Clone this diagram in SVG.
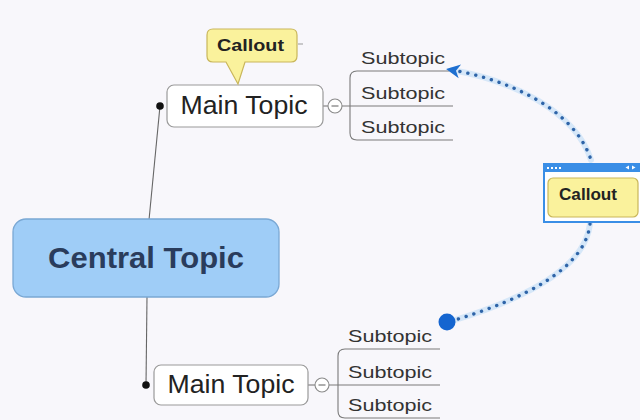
<svg xmlns="http://www.w3.org/2000/svg" width="640" height="420" viewBox="0 0 640 420">
  <style>
    text { font-family: "Liberation Sans", Arial, sans-serif; }
    .main-box { fill: #ffffff; stroke: #9a9a9a; stroke-width: 1.2; }
    .main-text { font-size: 25px; fill: #222222; }
    .sub-text { font-size: 17px; fill: #333333; }
    .callout-box { fill: #faf29c; stroke: #c9b65a; stroke-width: 1.2; }
    .callout-text { font-size: 17px; font-weight: bold; fill: #222222; }
    .branch { fill: none; stroke: #666666; stroke-width: 1.1; }
    .sub-line { fill: none; stroke: #7a7a7a; stroke-width: 1.1; }
    .toggle { fill: #ffffff; stroke: #8a8a8a; stroke-width: 1.1; }
    .toggle-minus { stroke: #777777; stroke-width: 1.2; }
    .rel-halo { fill: none; stroke: #d6e7f8; stroke-width: 6; stroke-linecap: round; }
    .rel-dots { fill: none; stroke: #2e64a8; stroke-width: 3.4; stroke-linecap: round; stroke-dasharray: 0.1 8; }
  </style>
  <defs>
    <marker id="rel-arrow" viewBox="-12 -8 20 16" markerUnits="userSpaceOnUse" markerWidth="20" markerHeight="16" refX="0" refY="0" orient="auto-start-reverse">
      <path d="M6,0 L-8,-7 L-4,0 L-8,7 Z" fill="#1e6fd0"/>
    </marker>
  </defs>

  <rect width="640" height="420" fill="#f8f7fb"/>

  <g id="connectors">
    <!-- trunk from central topic to both main topics -->
    <path class="branch" d="M160 106 L149 220"/>
    <path class="branch" d="M147 297 L146 385"/>
    <circle cx="160" cy="106" r="3.8" fill="#111111"/>
    <circle cx="146" cy="385" r="3.8" fill="#111111"/>

    <!-- upper main topic to its subtopics -->
    <path class="sub-line" d="M323 106 H328"/>
    <path class="sub-line" d="M342 106 H453"/>
    <path class="sub-line" d="M453 71 H357 Q350 71 350 78 V133 Q350 140 357 140 H453"/>

    <!-- lower main topic to its subtopics -->
    <path class="sub-line" d="M308 385 H315"/>
    <path class="sub-line" d="M329 385 H440"/>
    <path class="sub-line" d="M440 349 H345 Q338 349 338 356 V411 Q338 418 345 418 H440"/>

    <!-- relationship line through the floating callout -->
    <path class="rel-halo" d="M452 70 C510 80 575 110 591 160"/>
    <path class="rel-dots" d="M452 70 C510 80 575 110 591 160" marker-start="url(#rel-arrow)"/>
    <path class="rel-halo" d="M590 224 C585 270 520 300 455 320"/>
    <path class="rel-dots" d="M590 224 C585 270 520 300 455 320"/>
    <circle cx="447" cy="322" r="8.5" fill="#1565d0"/>
  </g>

  <g id="central-topic">
    <rect x="13" y="219" width="266" height="78" rx="13" fill="#9fcdf7" stroke="#7aa8d4" stroke-width="1.3"/>
    <text x="146" y="268" text-anchor="middle" font-size="30" font-weight="bold" fill="#2a3c5c" textLength="196" lengthAdjust="spacingAndGlyphs">Central Topic</text>
  </g>

  <g id="main-topic-1">
    <rect class="main-box" x="167" y="85" width="156" height="42" rx="7"/>
    <text class="main-text" x="244" y="114" text-anchor="middle" textLength="127" lengthAdjust="spacingAndGlyphs">Main Topic</text>
    <circle class="toggle" cx="335" cy="106" r="7"/>
    <path class="toggle-minus" d="M331.5 106 H338.5"/>
  </g>

  <g id="main-topic-2">
    <rect class="main-box" x="154" y="365" width="154" height="40" rx="7"/>
    <text class="main-text" x="231" y="393" text-anchor="middle" textLength="127" lengthAdjust="spacingAndGlyphs">Main Topic</text>
    <circle class="toggle" cx="322" cy="385" r="7"/>
    <path class="toggle-minus" d="M318.5 385 H325.5"/>
  </g>

  <g id="subtopic-1-1"><text class="sub-text" x="361" y="64" textLength="84" lengthAdjust="spacingAndGlyphs">Subtopic</text></g>
  <g id="subtopic-1-2"><text class="sub-text" x="361" y="99" textLength="84" lengthAdjust="spacingAndGlyphs">Subtopic</text></g>
  <g id="subtopic-1-3"><text class="sub-text" x="361" y="133" textLength="84" lengthAdjust="spacingAndGlyphs">Subtopic</text></g>

  <g id="subtopic-2-1"><text class="sub-text" x="348" y="342" textLength="84" lengthAdjust="spacingAndGlyphs">Subtopic</text></g>
  <g id="subtopic-2-2"><text class="sub-text" x="348" y="378" textLength="84" lengthAdjust="spacingAndGlyphs">Subtopic</text></g>
  <g id="subtopic-2-3"><text class="sub-text" x="348" y="411" textLength="84" lengthAdjust="spacingAndGlyphs">Subtopic</text></g>

  <g id="callout-top">
    <path class="callout-box" d="M213 29 H291 Q297 29 297 35 V56 Q297 62 291 62 H245 L238 84 L226 62 H213 Q207 62 207 56 V35 Q207 29 213 29 Z"/>
    <path d="M298 44 H303" stroke="#999999" stroke-width="1"/>
    <text class="callout-text" x="250.5" y="51" text-anchor="middle" textLength="67" lengthAdjust="spacingAndGlyphs">Callout</text>
  </g>

  <g id="callout-floating">
    <!-- selection frame with title strip -->
    <rect x="544" y="164" width="100" height="58" fill="#ffffff" stroke="#3a8ee6" stroke-width="2"/>
    <rect x="543" y="163" width="100" height="9" fill="#3a8ee6"/>
    <g fill="#ffffff">
      <rect x="547" y="167" width="2" height="2"/>
      <rect x="551" y="167" width="2" height="2"/>
      <rect x="555" y="167" width="2" height="2"/>
      <rect x="559" y="167" width="2" height="2"/>
      <polygon points="629,165.5 625.5,167.5 629,169.5"/>
      <polygon points="632,165.5 635.5,167.5 632,169.5"/>
    </g>
    <rect class="callout-box" x="548" y="178" width="90" height="39" rx="5"/>
    <text class="callout-text" x="588" y="200" text-anchor="middle" textLength="58" lengthAdjust="spacingAndGlyphs">Callout</text>
  </g>
</svg>
